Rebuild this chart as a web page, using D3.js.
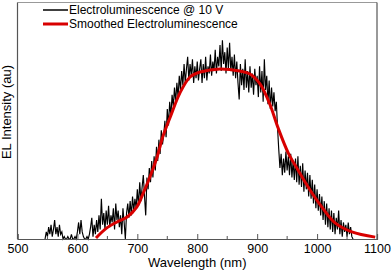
<!DOCTYPE html>
<html>
<head>
<meta charset="utf-8">
<script src="https://cdn.jsdelivr.net/npm/d3@7"></script>
<style>
  body { margin: 0; background: #fff; }
  svg { display: block; font-family: Arial, "Liberation Sans", sans-serif; }
</style>
</head>
<body>
<svg id="chart" width="392" height="270"></svg>
<script>
// rohe Messdaten (Wellenlänge in nm, Intensität relativ)
const rawWavelength = [
  546, 548, 550, 552, 554, 556, 558, 560, 562, 564,
  566, 568, 570, 572, 574, 576, 578, 580, 582, 584,
  586, 588, 590, 592, 594, 596, 598, 600, 602, 604,
  606, 608, 610, 612, 614, 616, 618, 620, 622, 624,
  626, 628, 630, 632, 634, 636, 638, 640, 642, 644,
  646, 648, 650, 652, 654, 656, 658, 660, 662, 664,
  666, 668, 670, 672, 674, 676, 678, 680, 682, 684,
  686, 688, 690, 692, 694, 696, 698, 700, 702, 704,
  706, 708, 710, 712, 714, 716, 718, 720, 722, 724,
  726, 728, 730, 732, 734, 736, 738, 740, 742, 744,
  746, 748, 750, 752, 754, 756, 758, 760, 762, 764,
  766, 768, 770, 772, 774, 776, 778, 780, 782, 784,
  786, 788, 790, 792, 794, 796, 798, 800, 802, 804,
  806, 808, 810, 812, 814, 816, 818, 820, 822, 824,
  826, 828, 830, 832, 834, 836, 838, 840, 842, 844,
  846, 848, 850, 852, 854, 856, 858, 860, 862, 864,
  866, 868, 870, 872, 874, 876, 878, 880, 882, 884,
  886, 888, 890, 892, 894, 896, 898, 900, 902, 904,
  906, 908, 910, 912, 914, 916, 918, 920, 922, 924,
  926, 928, 930, 932, 934, 936, 938, 940, 942, 944,
  946, 948, 950, 952, 954, 956, 958, 960, 962, 964,
  966, 968, 970, 972, 974, 976, 978, 980, 982, 984,
  986, 988, 990, 992, 994, 996, 998, 1000, 1002, 1004,
  1006, 1008, 1010, 1012, 1014, 1016, 1018, 1020, 1022, 1024,
  1026, 1028, 1030, 1032, 1034, 1036, 1038, 1040, 1042, 1044,
  1046, 1048, 1050, 1052, 1054, 1056, 1058, 1060
];
const rawIntensity = [
  0.00, 0.03, 0.01, 0.05, 0.02, 0.06, 0.01, 0.04, 0.08, 0.02,
  0.05, 0.01, 0.06, 0.02, 0.03, 0.00, 0.01, 0.00, 0.00, 0.01,
  0.00, 0.00, 0.02, 0.00, 0.00, 0.01, 0.00, 0.03, 0.07, 0.02,
  0.08, 0.03, 0.01, 0.00, 0.00, 0.01, 0.00, 0.02, 0.05, 0.09,
  0.01, 0.06, 0.02, 0.08, 0.03, 0.10, 0.04, 0.17, 0.06, 0.11,
  0.04, 0.12, 0.06, 0.14, 0.05, 0.10, 0.07, 0.13, 0.04, 0.15,
  0.08, 0.12, 0.05, 0.10, 0.02, 0.13, 0.07, 0.00, 0.11, 0.15,
  0.09, 0.16, 0.10, 0.18, 0.12, 0.17, 0.13, 0.21, 0.14, 0.24,
  0.16, 0.22, 0.27, 0.18, 0.10, 0.26, 0.21, 0.30, 0.24, 0.33,
  0.26, 0.35, 0.29, 0.39, 0.33, 0.42, 0.36, 0.46, 0.40, 0.44,
  0.50, 0.43, 0.55, 0.48, 0.58, 0.52, 0.61, 0.56, 0.64, 0.58,
  0.66, 0.60, 0.69, 0.63, 0.71, 0.65, 0.74, 0.66, 0.72, 0.77,
  0.67, 0.74, 0.69, 0.76, 0.66, 0.73, 0.68, 0.75, 0.67, 0.72,
  0.76, 0.66, 0.74, 0.68, 0.77, 0.67, 0.73, 0.70, 0.78, 0.69,
  0.75, 0.71, 0.80, 0.70, 0.77, 0.73, 0.82, 0.71, 0.84, 0.74,
  0.79, 0.70, 0.81, 0.72, 0.83, 0.71, 0.77, 0.69, 0.78, 0.68,
  0.75, 0.66, 0.59, 0.74, 0.65, 0.72, 0.63, 0.76, 0.64, 0.71,
  0.62, 0.73, 0.64, 0.70, 0.61, 0.72, 0.65, 0.69, 0.60, 0.73,
  0.62, 0.71, 0.58, 0.76, 0.63, 0.69, 0.57, 0.67, 0.55, 0.64,
  0.56, 0.62, 0.54, 0.58, 0.47, 0.38, 0.30, 0.36, 0.27, 0.34,
  0.28, 0.37, 0.29, 0.35, 0.27, 0.36, 0.26, 0.33, 0.25, 0.34,
  0.24, 0.35, 0.23, 0.31, 0.22, 0.32, 0.20, 0.29, 0.21, 0.28,
  0.18, 0.27, 0.17, 0.25, 0.15, 0.23, 0.13, 0.21, 0.12, 0.19,
  0.10, 0.18, 0.08, 0.16, 0.06, 0.15, 0.05, 0.13, 0.04, 0.12,
  0.03, 0.11, 0.02, 0.09, 0.04, 0.12, 0.02, 0.08, 0.01, 0.07,
  0.03, 0.06, 0.01, 0.07, 0.02, 0.05, 0.01, 0.00
];

// geglättete Kurve
const smoothWavelength = [631, 649, 666, 683, 699, 710, 721, 733, 743, 755, 771, 788, 805, 838, 871, 888, 905, 921, 935, 952, 968, 985, 1008, 1030, 1058, 1097];
const smoothIntensity = [0.004, 0.047, 0.072, 0.093, 0.135, 0.195, 0.262, 0.347, 0.436, 0.516, 0.617, 0.685, 0.706, 0.719, 0.710, 0.698, 0.655, 0.571, 0.469, 0.363, 0.292, 0.220, 0.135, 0.068, 0.030, 0.008];

// Achsen
const xMajorTicks = [500, 600, 700, 800, 900, 1000, 1100];
const xMinorTicks = [550, 650, 750, 850, 950, 1050];
const legendLabels = ["Electroluminescence @ 10 V", "Smoothed Electroluminescence"];

// Layout
const svg = d3.select("#chart");
const plotLeft = 17.5, plotRight = 377, plotTop = 2.5, plotBottom = 239;

const x = d3.scaleLinear().domain([500, 1100]).range([plotLeft, plotRight]);
const y = d3.scaleLinear().domain([0, 1]).range([plotBottom, plotTop]);

// Rahmen
svg.append("line")
    .attr("x1", plotLeft).attr("x2", plotRight)
    .attr("y1", plotTop).attr("y2", plotTop)
    .attr("stroke", "#999").attr("stroke-width", 1.2);
svg.append("line")
    .attr("x1", plotRight).attr("x2", plotRight)
    .attr("y1", plotTop).attr("y2", plotBottom)
    .attr("stroke", "#555").attr("stroke-width", 1.2);
svg.append("line")
    .attr("x1", plotLeft).attr("x2", plotLeft)
    .attr("y1", plotTop).attr("y2", plotBottom)
    .attr("stroke", "#555").attr("stroke-width", 1.2);

// Messdaten
const rawLine = d3.line()
    .x((d, i) => x(rawWavelength[i]))
    .y(d => y(d));
svg.append("path")
    .datum(rawIntensity)
    .attr("d", rawLine)
    .attr("fill", "none")
    .attr("stroke", "#000")
    .attr("stroke-width", 1.15);

// geglättete Linie
const smoothLine = d3.line()
    .x((d, i) => x(smoothWavelength[i]))
    .y(d => y(d))
    .curve(d3.curveCatmullRom.alpha(0.5));
svg.append("path")
    .datum(smoothIntensity)
    .attr("d", smoothLine)
    .attr("fill", "none")
    .attr("stroke", "#d80000")
    .attr("stroke-width", 3);

// x-Achse (Ticks nach innen)
const xAxis = svg.append("g")
    .attr("transform", `translate(0,${plotBottom})`)
    .call(d3.axisBottom(x).tickValues(xMajorTicks).tickSize(-5).tickPadding(5).tickFormat(d3.format("d")));
xAxis.select(".domain").attr("stroke", "#555").attr("stroke-width", 1.2);
xAxis.selectAll(".tick line").attr("stroke", "#555");
xAxis.selectAll(".tick text")
    .attr("font-size", "12.5px")
    .attr("font-family", "Arial, 'Liberation Sans', sans-serif")
    .attr("fill", "#000");

svg.append("g")
    .selectAll("line")
    .data(xMinorTicks)
    .join("line")
    .attr("x1", d => x(d)).attr("x2", d => x(d))
    .attr("y1", plotBottom).attr("y2", plotBottom - 3)
    .attr("stroke", "#555");

// Achsenbeschriftungen
svg.append("text")
    .attr("x", (plotLeft + plotRight) / 2)
    .attr("y", 267)
    .attr("text-anchor", "middle")
    .attr("font-size", "13px")
    .text("Wavelength (nm)");

svg.append("text")
    .attr("transform", `translate(11,112) rotate(-90)`)
    .attr("text-anchor", "middle")
    .attr("font-size", "13px")
    .text("EL Intensity (au)");

// Legende
const legend = svg.append("g");
const legendColors = ["#000", "#d80000"];
const legendWidths = [1.5, 3];
legendLabels.forEach((label, i) => {
    const ly = 10 + i * 14;
    legend.append("line")
        .attr("x1", 43).attr("x2", 68)
        .attr("y1", ly).attr("y2", ly)
        .attr("stroke", legendColors[i])
        .attr("stroke-width", legendWidths[i]);
    legend.append("text")
        .attr("x", 69)
        .attr("y", ly + 4)
        .attr("font-size", "12px")
        .text(label);
});
</script>
</body>
</html>
